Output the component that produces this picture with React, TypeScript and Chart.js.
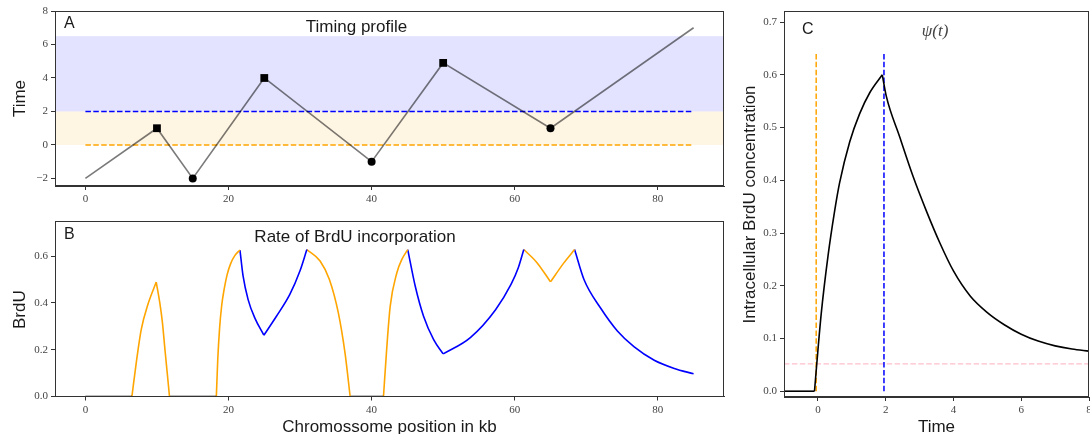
import React, { useEffect, useRef } from "react";
import { Chart, registerables } from "chart.js";

Chart.register(...registerables);

// ---------- Panel A: timing profile ----------
const profileX = [0, 10, 15, 25, 40, 50, 65, 85];
const profileY = [-2, 1, -2, 4, -1, 4.9, 1, 7];
const profileMarker = ["", "rect", "circle", "rect", "circle", "rect", "circle", ""];
const pulseStartLevel = 0;
const pulseEndLevel = 2;
const lateBandTop = 6.5;
const thresholdFromX = 0;
const thresholdToX = 85;
const xTicksAB = [0, 20, 40, 60, 80];
const yTicksA = [-2, 0, 2, 4, 6, 8];

// ---------- Panel B: rate of BrdU incorporation ----------
const brduX = [
  0, 6.5, 7.1, 7.8, 8.73, 9.9, 10.4, 10.75, 11.15, 11.5,
  11.75, 18.3, 18.5, 18.75, 19.05, 19.4, 19.8, 20.3, 20.9, 21.6,
  22.04, 22.74, 23.67, 24.94, 26.7, 28.57, 29.98, 30.95, 32.8, 34.1,
  35.35, 36.28, 37.0, 41.66, 42.1, 42.6, 43.53, 44.23, 45.05, 46.1,
  47.26, 48.67, 50.0, 53.8, 57.3, 59.5, 60.5, 61.27, 63.14, 65.0,
  66.87, 68.37, 69.68, 72.0, 74.35, 76.7, 79.5, 82.3, 85.0,
];
const brduY = [
  0, 0, 0.143, 0.286, 0.393, 0.489, 0.4, 0.32, 0.19, 0.08,
  0, 0, 0.16, 0.29, 0.39, 0.46, 0.52, 0.568, 0.603, 0.626,
  0.514, 0.414, 0.336, 0.262, 0.343, 0.436, 0.536, 0.628, 0.579, 0.5,
  0.357, 0.186, 0, 0, 0.2, 0.386, 0.529, 0.586, 0.628, 0.471,
  0.343, 0.243, 0.182, 0.252, 0.37, 0.48, 0.55, 0.628, 0.571, 0.49,
  0.571, 0.628, 0.5, 0.378, 0.28, 0.212, 0.155, 0.12, 0.097,
];
// colour of the segment starting at each point: k = no incorporation, o = during pulse, b = after pulse
const brduPhase =
  "k" + "ooooooooo" + "k" + "oooooooo" + "bbbbbbbb" + "ooooo" + "k" + "ooooo" + "bbbbbbbbb" + "oooo" + "bbbbbbb";
const yTicksB = [0, 0.2, 0.4, 0.6];

// ---------- Panel C: intracellular BrdU psi(t) ----------
const psiT = [-1, -0.1, 0, 0.1, 0.3, 0.49, 0.64, 0.94, 1.23, 1.53, 1.9, 2.02, 2.41, 2.81, 3.2, 3.6, 4.0, 4.5, 5.0, 5.5, 6.0, 6.5, 7.0, 7.5, 8.0];
const psiV = [0, 0, 0.077, 0.148, 0.257, 0.34, 0.395, 0.473, 0.526, 0.566, 0.6, 0.559, 0.483, 0.407, 0.342, 0.281, 0.228, 0.18, 0.149, 0.126, 0.108, 0.095, 0.086, 0.08, 0.076];
const pulseStartT = -0.05;
const pulseEndT = 1.95;
const pulseMarkTop = 0.643;
const detectionLevel = 0.052;
const xTicksC = [0, 2, 4, 6, 8];
const yTicksC = [0, 0.1, 0.2, 0.3, 0.4, 0.5, 0.6, 0.7];

// ---------- helpers ----------
const PHASE_COLORS: Record<string, string> = { k: "#000000", o: "#ffa500", b: "#0000ff" };
const SANS = "'Liberation Sans', Arial, sans-serif";
const TICK_FONT = { family: "'Liberation Serif', 'DejaVu Serif', serif", size: 11 };
const TEXT_COLOR = "#1a1a1a";

const intFmt = (v: number) => String(Math.round(v)).replace("-", "\u2212");
const decFmt = (v: number) => v.toFixed(1);

function axis(min: number, max: number, ticks: number[], fmt: (v: number) => string, fit: { width?: number; height?: number }) {
  return {
    type: "linear",
    min,
    max,
    afterBuildTicks: (s: any) => {
      s.ticks = ticks.map((v) => ({ value: v }));
    },
    afterFit: (s: any) => {
      if (fit.width != null) s.width = fit.width;
      if (fit.height != null) s.height = fit.height;
      s.paddingLeft = 0;
      s.paddingRight = 0;
      s.paddingTop = 0;
      s.paddingBottom = 0;
    },
    grid: { display: true, drawOnChartArea: false, drawTicks: true, tickLength: 4, tickWidth: 1, color: "#333" },
    border: { display: true, color: "#333", width: 1 },
    ticks: {
      font: TICK_FONT,
      color: "#444",
      padding: 3,
      maxRotation: 0,
      minRotation: 0,
      autoSkip: false,
      callback: (v: any) => fmt(Number(v)),
    },
  };
}

function pieces(xs: number[], ys: number[], phase?: string) {
  const out: { from: number; to: number; color: string }[] = [];
  let start = 0;
  const sgn = (i: number) => Math.sign(ys[i + 1] - ys[i]);
  for (let i = 1; i < xs.length - 1; i++) {
    const colorChange = phase ? phase[i] !== phase[i - 1] : false;
    if (colorChange || sgn(i) !== sgn(i - 1)) {
      out.push({ from: start, to: i, color: phase ? PHASE_COLORS[phase[start]] : "#000" });
      start = i;
    }
  }
  out.push({ from: start, to: xs.length - 1, color: phase ? PHASE_COLORS[phase[start]] : "#000" });
  return out.map((p) => ({
    data: xs.slice(p.from, p.to + 1).map((x, k) => ({ x, y: ys[p.from + k] })),
    borderColor: p.color,
    borderWidth: 1.6,
    pointRadius: 0,
    cubicInterpolationMode: "monotone",
    fill: false,
    order: 1,
  }));
}

function dashed(points: { x: number; y: number }[], color: string, width = 1.5, order = 5) {
  return {
    data: points,
    borderColor: color,
    borderWidth: width,
    borderDash: [5.5, 2.4],
    pointRadius: 0,
    fill: false,
    order,
  };
}

type TextItem = { text: string; x: number; y: number; font: string; color?: string; align?: CanvasTextAlign; rotate?: boolean };

function textPlugin(items: TextItem[]) {
  return {
    id: "texts",
    afterDraw(chart: any) {
      const ctx = chart.ctx as CanvasRenderingContext2D;
      items.forEach((it) => {
        ctx.save();
        ctx.font = it.font;
        ctx.fillStyle = it.color || TEXT_COLOR;
        ctx.textAlign = it.align || "left";
        ctx.textBaseline = "alphabetic";
        ctx.translate(it.x, it.y);
        if (it.rotate) ctx.rotate(-Math.PI / 2);
        ctx.fillText(it.text, 0, 0);
        ctx.restore();
      });
    },
  };
}

const framePlugin = {
  id: "frame",
  afterDraw(chart: any) {
    const { ctx, chartArea } = chart;
    const l = Math.round(chartArea.left) + 0.5;
    const t = Math.round(chartArea.top) + 0.5;
    const r = Math.round(chartArea.right) - 0.5;
    const b = Math.round(chartArea.bottom) - 0.5;
    ctx.save();
    ctx.strokeStyle = "#333";
    ctx.lineWidth = 1;
    ctx.strokeRect(l, t, r - l, b - t);
    ctx.restore();
  },
};

const bandsPlugin = {
  id: "bands",
  beforeDatasetsDraw(chart: any) {
    const { ctx, chartArea, scales } = chart;
    const y = scales.y;
    ctx.save();
    ctx.beginPath();
    ctx.rect(chartArea.left, chartArea.top, chartArea.right - chartArea.left, chartArea.bottom - chartArea.top);
    ctx.clip();
    const band = (lo: number, hi: number, color: string) => {
      const yt = y.getPixelForValue(hi);
      const yb = y.getPixelForValue(lo);
      ctx.fillStyle = color;
      ctx.fillRect(chartArea.left, yt, chartArea.right - chartArea.left, yb - yt);
    };
    band(pulseEndLevel, lateBandTop, "rgba(0,0,255,0.11)");
    band(pulseStartLevel, pulseEndLevel, "rgba(255,165,0,0.11)");
    ctx.restore();
  },
};

const baseOptions = (padRight: number, scales: any) => ({
  responsive: false,
  animation: false,
  devicePixelRatio: 1,
  layout: { padding: { left: 0, top: 11, right: padRight, bottom: 0 } },
  plugins: { legend: { display: false }, tooltip: { enabled: false }, title: { display: false } },
  events: [],
  scales,
});

function buildA() {
  return {
    type: "line",
    data: {
      datasets: [
        {
          data: profileX.map((x, i) => ({ x, y: profileY[i] })),
          borderColor: "rgba(0,0,0,0.52)",
          borderWidth: 1.6,
          pointStyle: profileMarker.map((m) => m || "circle"),
          pointRadius: profileMarker.map((m) => (m === "rect" ? 5.5 : m === "circle" ? 4 : 0)),
          pointBackgroundColor: "#000",
          pointBorderColor: "#000",
          pointBorderWidth: 0,
          fill: false,
          order: 0,
        },
        dashed([{ x: thresholdFromX, y: pulseEndLevel }, { x: thresholdToX, y: pulseEndLevel }], "#0000ff"),
        dashed([{ x: thresholdFromX, y: pulseStartLevel }, { x: thresholdToX, y: pulseStartLevel }], "#ffa500"),
      ],
    },
    options: baseOptions(16, {
      x: axis(-4.25, 89.25, xTicksAB, intFmt, { height: 24 }),
      y: axis(-2.45, 8, yTicksA, intFmt, { width: 55 }),
    }),
    plugins: [
      bandsPlugin,
      framePlugin,
      textPlugin([
        { text: "A", x: 64, y: 28, font: `16px ${SANS}` },
        { text: "Timing profile", x: 356.5, y: 32, font: `17px ${SANS}`, align: "center" },
        { text: "Time", x: 25, y: 98.5, font: `17px ${SANS}`, align: "center", rotate: true },
      ]),
    ],
  };
}

function buildB() {
  return {
    type: "line",
    data: { datasets: pieces(brduX, brduY, brduPhase) },
    options: baseOptions(16, {
      x: axis(-4.25, 89.25, xTicksAB, intFmt, { height: 37.5 }),
      y: axis(0, 0.75, yTicksB, decFmt, { width: 55 }),
    }),
    plugins: [
      framePlugin,
      textPlugin([
        { text: "B", x: 64, y: 29, font: `16px ${SANS}` },
        { text: "Rate of BrdU incorporation", x: 355, y: 32, font: `17px ${SANS}`, align: "center" },
        { text: "BrdU", x: 25, y: 99.7, font: `17px ${SANS}`, align: "center", rotate: true },
        { text: "Chromossome position in kb", x: 389.5, y: 222, font: `17px ${SANS}`, align: "center" },
      ]),
    ],
  };
}

function buildC() {
  return {
    type: "line",
    data: {
      datasets: [
        ...pieces(psiT, psiV),
        dashed([{ x: pulseStartT, y: 0 }, { x: pulseStartT, y: pulseMarkTop }], "#ffa500", 1.5, 3),
        dashed([{ x: pulseEndT, y: 0 }, { x: pulseEndT, y: pulseMarkTop }], "#0000ff", 1.5, 3),
        dashed([{ x: -1, y: detectionLevel }, { x: 8, y: detectionLevel }], "#ffc0cb", 1.3, 4),
      ],
    },
    options: baseOptions(1, {
      x: axis(-1, 8, xTicksC, intFmt, { height: 37 }),
      y: axis(-0.011, 0.721, yTicksC, decFmt, { width: 44 }),
    }),
    plugins: [
      framePlugin,
      textPlugin([
        { text: "C", x: 62, y: 33.5, font: `16px ${SANS}` },
        { text: "\u03c8(t)", x: 195, y: 35.5, font: `italic 17px 'Liberation Serif', 'DejaVu Serif', serif`, align: "center", color: "#444" },
        { text: "Time", x: 196.5, y: 432, font: `17px ${SANS}`, align: "center" },
        { text: "Intracellular BrdU concentration", x: 15, y: 204.5, font: `17px ${SANS}`, align: "center", rotate: true },
      ]),
    ],
  };
}

function ChartCanvas(props: { left: number; top: number; width: number; height: number; build: () => any }) {
  const ref = useRef<HTMLCanvasElement>(null);
  useEffect(() => {
    const chart = new Chart(ref.current as HTMLCanvasElement, props.build() as any);
    return () => chart.destroy();
  }, []);
  return (
    <canvas
      ref={ref}
      width={props.width}
      height={props.height}
      style={{ position: "absolute", left: props.left, top: props.top, width: props.width, height: props.height }}
    />
  );
}

export default function App() {
  return (
    <div style={{ position: "fixed", left: 0, top: 0, width: 1090, height: 434, background: "#fff", overflow: "hidden" }}>
      <ChartCanvas left={0} top={0} width={740} height={210} build={buildA} />
      <ChartCanvas left={0} top={210} width={740} height={224} build={buildB} />
      <ChartCanvas left={740} top={0} width={350} height={434} build={buildC} />
    </div>
  );
}
